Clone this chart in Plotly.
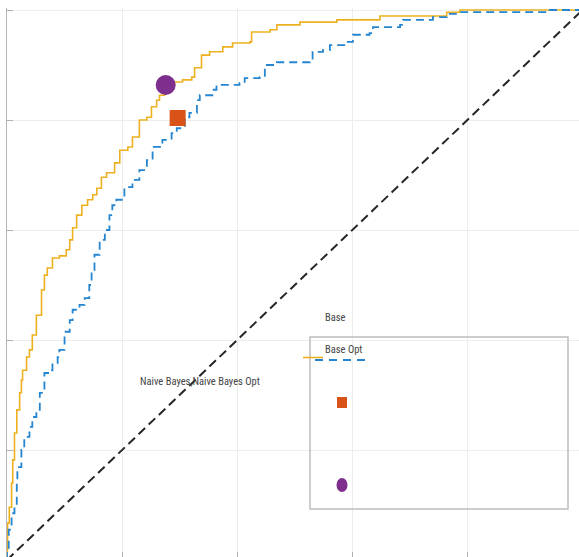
import plotly.graph_objects as go

# ROC curve: Naive Bayes (base model), staircase points (FPR, TPR)
base_fpr = [0, 0, 0.001, 0.004, 0.008, 0.010, 0.013, 0.017, 0.022, 0.025, 0.027, 0.034,
            0.039, 0.044, 0.051, 0.060, 0.065, 0.070, 0.079, 0.091, 0.103, 0.109, 0.114,
            0.121, 0.130, 0.140, 0.149, 0.156, 0.164, 0.173, 0.187, 0.196, 0.210, 0.218,
            0.230, 0.243, 0.251, 0.260, 0.265, 0.274, 0.291, 0.305, 0.321, 0.326, 0.338,
            0.352, 0.375, 0.392, 0.422, 0.425, 0.457, 0.469, 0.509, 0.573, 0.648, 0.764,
            0.787, 1.0]
base_tpr = [0, 0.018, 0.067, 0.096, 0.140, 0.182, 0.231, 0.273, 0.304, 0.327, 0.345, 0.369,
            0.382, 0.409, 0.445, 0.491, 0.518, 0.531, 0.549, 0.553, 0.564, 0.582, 0.604,
            0.627, 0.645, 0.655, 0.664, 0.676, 0.696, 0.704, 0.722, 0.745, 0.751, 0.769,
            0.800, 0.805, 0.824, 0.836, 0.845, 0.864, 0.869, 0.873, 0.878, 0.895, 0.918,
            0.924, 0.933, 0.940, 0.942, 0.960, 0.964, 0.973, 0.978, 0.982, 0.989, 0.996,
            1.0, 1.0]

# ROC curve: Naive Bayes Opt (optimised model)
opt_fpr = [0, 0, 0.003, 0.008, 0.013, 0.017, 0.018, 0.025, 0.030, 0.039, 0.044, 0.051,
           0.057, 0.065, 0.074, 0.079, 0.088, 0.091, 0.100, 0.109, 0.114, 0.126, 0.135,
           0.143, 0.147, 0.152, 0.161, 0.170, 0.178, 0.183, 0.190, 0.204, 0.218, 0.230,
           0.243, 0.253, 0.270, 0.286, 0.295, 0.309, 0.317, 0.330, 0.335, 0.357, 0.364,
           0.404, 0.413, 0.439, 0.448, 0.469, 0.526, 0.531, 0.549, 0.561, 0.590, 0.601,
           0.630, 0.636, 0.683, 0.688, 0.740, 0.764, 0.787, 0.943, 1.0]
opt_tpr = [0, 0.018, 0.055, 0.085, 0.096, 0.140, 0.169, 0.200, 0.224, 0.242, 0.260, 0.273,
           0.304, 0.340, 0.345, 0.358, 0.369, 0.382, 0.415, 0.436, 0.455, 0.464, 0.476,
           0.500, 0.527, 0.555, 0.582, 0.600, 0.627, 0.645, 0.655, 0.678, 0.691, 0.709,
           0.727, 0.751, 0.764, 0.776, 0.785, 0.805, 0.813, 0.836, 0.845, 0.855, 0.864,
           0.867, 0.876, 0.878, 0.900, 0.905, 0.909, 0.924, 0.927, 0.936, 0.942, 0.955,
           0.958, 0.969, 0.973, 0.982, 0.987, 0.993, 0.996, 1.0, 1.0]

# Operating points chosen on each curve
base_point = (0.2757, 0.8636)
opt_point = (0.2965, 0.8036)

# Chance line
chance = [0, 1]

tick_vals = [0.2, 0.4, 0.6, 0.8]

YELLOW = "#EDB120"
BLUE = "#2585CE"
ORANGE = "#D95319"
PURPLE = "#7E2F8E"
TEXT = "#454545"
FONT = "Liberation Sans Narrow, Roboto Condensed, Roboto, sans-serif"

W, H = 579, 557
ML, MT = 7, 8

fig = go.Figure()
fig.add_trace(go.Scatter(x=chance, y=chance, mode="lines",
                         line=dict(color="#262626", width=2, dash="9px,5px"),
                         hoverinfo="skip"))
fig.add_trace(go.Scatter(x=base_fpr, y=base_tpr, mode="lines", name="Naive Bayes",
                         line=dict(color=YELLOW, width=1.6, shape="hv")))
fig.add_trace(go.Scatter(x=opt_fpr, y=opt_tpr, mode="lines", name="Naive Bayes Opt",
                         line=dict(color=BLUE, width=1.8, shape="hv", dash="8px,5px")))
fig.add_trace(go.Scatter(x=[opt_point[0]], y=[opt_point[1]], mode="markers", name="Opt point",
                         marker=dict(symbol="square", size=16, color=ORANGE)))
fig.add_trace(go.Scatter(x=[base_point[0]], y=[base_point[1]], mode="markers", name="Base point",
                         marker=dict(symbol="circle", size=20, color=PURPLE)))


def px(xp):
    return (xp - ML) / (W - ML)


def py(yp):
    return (H - yp) / (H - MT)


shapes = [
    # legend frame
    dict(type="rect", xref="paper", yref="paper",
         x0=px(310), x1=px(568), y0=py(509), y1=py(337),
         line=dict(color="#BDBDBD", width=1.5), fillcolor="rgba(0,0,0,0)"),
    # legend line samples
    dict(type="line", xref="paper", yref="paper",
         x0=px(303), x1=px(323), y0=py(357.5), y1=py(357.5),
         line=dict(color=YELLOW, width=1.6)),
    dict(type="line", xref="paper", yref="paper",
         x0=px(315), x1=px(369), y0=py(360), y1=py(360),
         line=dict(color=BLUE, width=1.8, dash="8px,6px")),
    # legend marker samples
    dict(type="rect", xref="paper", yref="paper",
         x0=px(337), x1=px(347), y0=py(408), y1=py(397),
         line=dict(width=0), fillcolor=ORANGE),
    dict(type="circle", xref="paper", yref="paper",
         x0=px(336.5), x1=px(347.5), y0=py(492), y1=py(478),
         line=dict(width=0), fillcolor=PURPLE),
]

annotations = [
    dict(text="Base", xref="paper", yref="paper", x=px(323), y=py(317),
         xanchor="left", yanchor="middle", showarrow=False,
         font=dict(family=FONT, size=10.5, color=TEXT)),
    dict(text="Base Opt", xref="paper", yref="paper", x=px(323), y=py(349),
         xanchor="left", yanchor="middle", showarrow=False,
         font=dict(family=FONT, size=10.5, color=TEXT)),
    dict(text="Naive Bayes,Naive Bayes Opt", xref="paper", yref="paper",
         x=px(138), y=py(382), xanchor="left", yanchor="middle", showarrow=False,
         font=dict(family=FONT, size=10.5, color=TEXT)),
]

fig.update_layout(
    width=W, height=H,
    margin=dict(l=ML, r=0, t=MT, b=0),
    paper_bgcolor="white", plot_bgcolor="white",
    showlegend=False,
    shapes=shapes, annotations=annotations,
    xaxis=dict(range=[0, (W - ML - 0.5) / 575], tickvals=tick_vals, showticklabels=False,
               ticks="inside", ticklen=5, tickcolor="#B0B0B0", tickwidth=1,
               showgrid=True, gridcolor="#EDEDED", gridwidth=1,
               zeroline=False, showline=False),
    yaxis=dict(range=[1 - (H - 10) / 550, 1 + 2 / 550], tickvals=tick_vals + [1.0],
               showticklabels=False, ticks="inside", ticklen=6, tickcolor="#B0B0B0",
               showgrid=True, gridcolor="#EDEDED", gridwidth=1,
               zeroline=False, showline=True, linecolor="#B5B5B5", linewidth=1),
)

fig.write_html("out.html")
